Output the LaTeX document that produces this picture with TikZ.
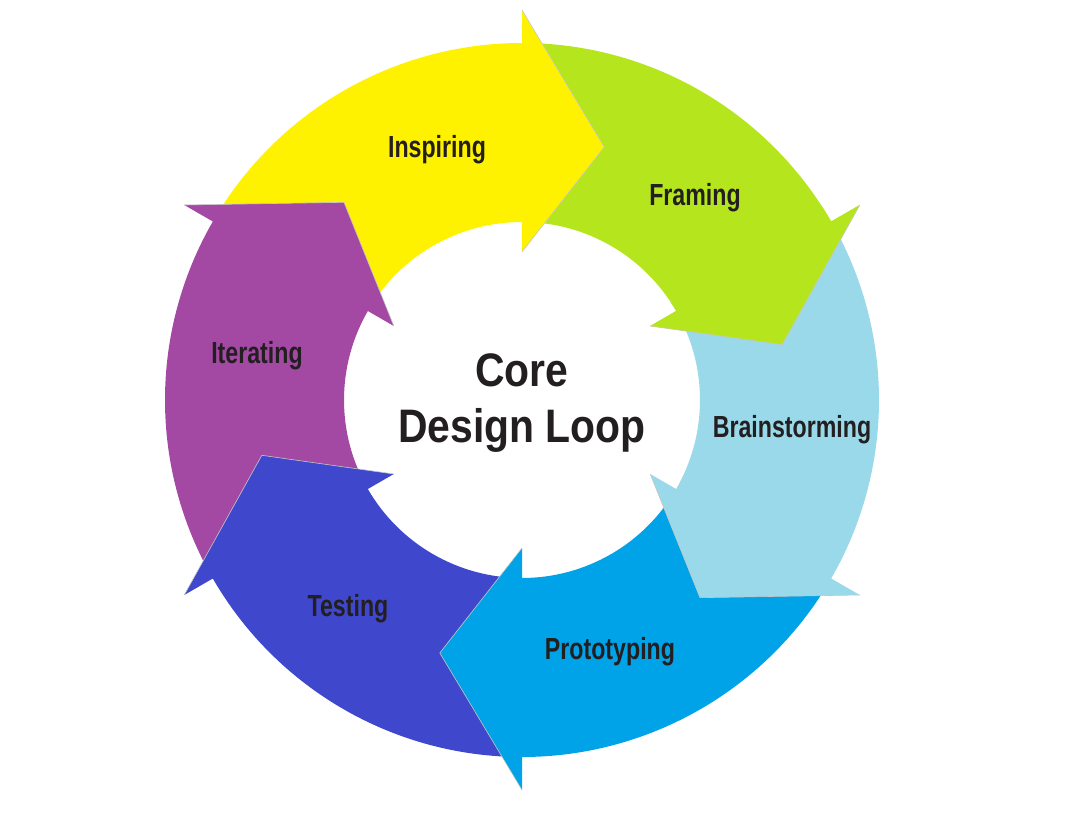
\documentclass[tikz,border=0pt]{standalone}
\usepackage{fontspec}
\setmainfont{Liberation Sans}
\newfontfamily\stepfont[FakeStretch=0.76]{Liberation Sans}
\newfontfamily\corefont[FakeStretch=0.87]{Liberation Sans}
\usetikzlibrary{positioning}
\definecolor{cYellow}{RGB}{255,242,0}
\definecolor{cGreen}{RGB}{181,230,29}
\definecolor{cLight}{RGB}{153,217,234}
\definecolor{cCyan}{RGB}{0,162,232}
\definecolor{cIndigo}{RGB}{63,72,204}
\definecolor{cPurple}{RGB}{163,73,164}
\definecolor{cText}{RGB}{35,31,32}

\begin{document}
\begin{tikzpicture}[x=1pt, y=1pt,
   stepname/.style={text=cText, font=\stepfont\bfseries\fontsize{30.5}{32}\selectfont, anchor=base, inner sep=0pt},
   corename/.style={text=cText, font=\corefont\bfseries\fontsize{47}{50}\selectfont, anchor=base, inner sep=0pt},
   headline/.style={draw=white!78!black, line width=0.6pt}]
         \useasboundingbox (-522, -415) rectangle (567, 400);
         % ring of arrows, each one tail -> head clockwise
         \fill [cGreen] (90:357) arc [start angle=90, end angle=30, radius=357pt] -- (30:390) -- (12:266) -- (30:148) -- (30:178) arc [start angle=30, end angle=90, radius=178pt] -- cycle;
         \fill [cYellow] (150:357) arc [start angle=150, end angle=90, radius=357pt] -- (90:390) -- (72:266) -- (90:148) -- (90:178) arc [start angle=90, end angle=150, radius=178pt] -- cycle;
         \fill [cPurple] (210:357) arc [start angle=210, end angle=150, radius=357pt] -- (150:390) -- (132:266) -- (150:148) -- (150:178) arc [start angle=150, end angle=210, radius=178pt] -- cycle;
         \fill [cIndigo] (270:357) arc [start angle=270, end angle=210, radius=357pt] -- (210:390) -- (192:266) -- (210:148) -- (210:178) arc [start angle=210, end angle=270, radius=178pt] -- cycle;
         \fill [cCyan] (330:357) arc [start angle=330, end angle=270, radius=357pt] -- (270:390) -- (252:266) -- (270:148) -- (270:178) arc [start angle=270, end angle=330, radius=178pt] -- cycle;
         \fill [cLight] (30:357) arc [start angle=30, end angle=-30, radius=357pt] -- (-30:390) -- (-48:266) -- (-30:148) -- (-30:178) arc [start angle=-30, end angle=30, radius=178pt] -- cycle;
         \fill [cGreen] (33:357) arc [start angle=33, end angle=30, radius=357pt] -- (30:390) -- (12:266) -- (30:148) -- (30:178) arc [start angle=30, end angle=33, radius=178pt] -- cycle;
         \draw [headline] (90:390) -- (72:266) -- (90:148);
         \draw [headline] (30:390) -- (12:266) -- (30:148);
         \draw [headline] (-30:390) -- (-48:266) -- (-30:148);
         \draw [headline] (270:390) -- (252:266) -- (270:148);
         \draw [headline] (210:390) -- (192:266) -- (210:148);
         \draw [headline] (150:390) -- (132:266) -- (150:148);
         % labels
         \node [stepname] (IN) at (-85, 243) {Inspiring};
         \node [stepname] (FR) at (173, 195) {Framing};
         \node [stepname] (BR) at (270, -37) {Brainstorming};
         \node [stepname] (PR) at (88, -259) {Prototyping};
         \node [stepname] (TE) at (-174, -216) {Testing};
         \node [stepname] (IT) at (-265, 37) {Iterating};
         \node [corename] (CO) at (0, 14) {Core};
         \node [corename] (DL) at (0, -42) {Design Loop};
\end{tikzpicture}
\end{document}
